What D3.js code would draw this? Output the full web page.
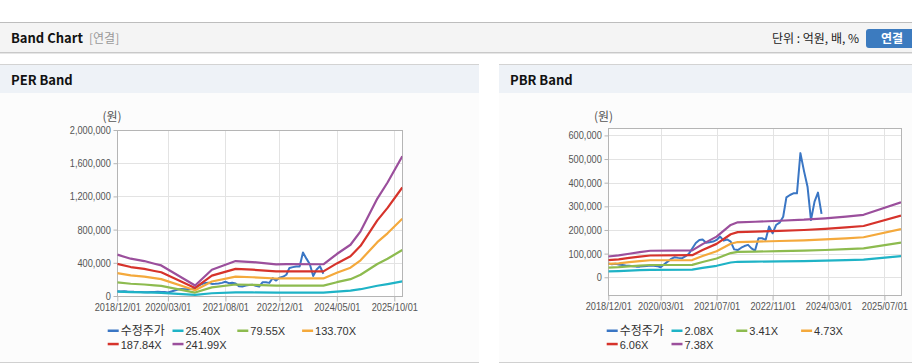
<!DOCTYPE html>
<html><head><meta charset="utf-8">
<script src="https://cdn.jsdelivr.net/npm/d3@7"></script>
<style>
html,body{margin:0;padding:0;background:#fff;}
svg{display:block;}
text{font-family:"Liberation Sans",Arial,"Noto Sans CJK KR",sans-serif;}
.kr{font-family:"Noto Sans CJK KR","Liberation Sans",sans-serif;}
</style></head>
<body>
<script>
// ---------- DATA ----------
const priceDates = ["2018-12","2019-01","2019-02","2019-03","2019-04","2019-05","2019-06","2019-07","2019-08","2019-09","2019-10","2019-11","2019-12",
"2020-01","2020-02","2020-03","2020-04","2020-05","2020-06","2020-07","2020-08","2020-09","2020-10","2020-11","2020-12",
"2021-01","2021-02","2021-03","2021-04","2021-05","2021-06","2021-07","2021-08","2021-09","2021-10","2021-11","2021-12",
"2022-01","2022-02","2022-03","2022-04","2022-05","2022-06","2022-07","2022-08","2022-09","2022-10","2022-11","2022-12",
"2023-01","2023-02","2023-03","2023-04","2023-05","2023-06","2023-07","2023-08","2023-09","2023-10","2023-11","2023-12","2024-01"];
const priceValues = [58000,55000,57000,54000,52000,50000,49000,47000,45000,45000,47000,48000,50000,
49000,47000,42000,55000,66000,78000,85000,82000,80000,88000,99000,122000,
145000,158000,160000,146000,148000,151000,158000,172000,155000,160000,151000,118000,
115000,125000,132000,137000,122000,113000,165000,165000,158000,215000,186000,221000,
231000,256000,338000,348000,355000,355000,525000,450000,383000,242000,320000,358000,268000];

// PER band
const perDates = ["2018-12-01","2019-04-01","2019-08-01","2019-11-01","2020-01-01","2020-11-01","2021-04-01","2021-11-01","2022-04-01","2022-11-01","2023-02-01","2024-01-01","2024-05-01","2024-09-01","2024-12-01","2025-05-01","2025-08-01","2025-12-12"];
const perBand1 = [52300,47200,44200,40800,38700,13200,33300,44200,42900,40000,40300,40100,53100,64800,81800,123200,143500,176800];
const perBand2 = [163700,147700,138400,127800,121100,41400,104200,138400,134400,125300,126100,125700,166300,202900,256200,385800,449500,553700];
const perBand3 = [275200,248300,232600,214700,203500,69500,175100,232600,226000,210600,211900,211200,279400,340900,430500,648400,755400,930600];
const perBand4 = [386600,348800,326800,301700,285900,97700,246100,326800,317400,295800,297700,296800,392600,479000,604800,911000,1061300,1307400];
const perBand5 = [498000,449400,421100,388600,368300,125800,317000,421100,409000,381100,383600,382300,505800,617100,779200,1173700,1367200,1684300];
const perLabels = ["수정주가","25.40X","79.55X","133.70X","187.84X","241.99X"];
const perYTicks = [0,400000,800000,1200000,1600000,2000000];
const perXTicks = ["2018/12/01","2020/03/01","2021/08/01","2022/12/01","2024/05/01","2025/10/01"];

// PBR band
const pbrDates = ["2018-12-01","2019-03-01","2019-06-01","2019-09-01","2019-12-01","2020-12-01","2021-03-01","2021-07-01","2021-11-01","2022-01-01","2022-06-01","2023-01-01","2023-08-01","2024-02-01","2024-08-01","2025-01-01","2025-11-23"];
const pbrBand1 = [24800,26000,28100,30000,31600,32000,39500,48500,62400,65500,66100,67400,68600,70300,72400,74500,89400];
const pbrBand2 = [40600,42600,46000,49100,51800,52500,64800,79500,102300,107400,108400,110500,112500,115300,118700,122100,146600];
const pbrBand3 = [56300,59100,63900,68100,71900,72800,89900,110200,141900,149000,150400,153300,156100,159900,164600,169300,203400];
const pbrBand4 = [72100,75800,81800,87300,92100,93300,115100,141200,181800,190900,192700,196300,200000,204800,210900,216900,260600];
const pbrBand5 = [87800,92300,99600,106300,112200,113700,140200,172000,221400,232500,234700,239100,243500,249400,256800,264200,317300];
const pbrLabels = ["수정주가","2.08X","3.41X","4.73X","6.06X","7.38X"];
const pbrYTicks = [0,100000,200000,300000,400000,500000,600000];
const pbrXTicks = ["2018/12/01","2020/03/01","2021/07/01","2022/11/01","2024/03/01","2025/07/01"];

const colors = ["#3a76c4","#1fb3c6","#8dbb4f","#f4a93c","#d6332b","#9b4f9c"];

// ---------- DRAW ----------
const W = 912, H = 364;
const svg = d3.select("body").append("svg").attr("width", W).attr("height", H);

// top header bar
svg.append("rect").attr("x",0).attr("y",22).attr("width",W).attr("height",31).attr("fill","#f4f4f4");
svg.append("line").attr("x1",0).attr("x2",W).attr("y1",22.5).attr("y2",22.5).attr("stroke","#bdbdbd");
svg.append("line").attr("x1",0).attr("x2",W).attr("y1",52.5).attr("y2",52.5).attr("stroke","#c9c9c9");
svg.append("line").attr("x1",0).attr("x2",W).attr("y1",53.5).attr("y2",53.5).attr("stroke","#e6e6e6");
svg.append("text").attr("class","kr").attr("x",11).attr("y",43).attr("font-size",13).attr("font-weight","bold").attr("fill","#111").text("Band Chart");
svg.append("text").attr("class","kr").attr("x",89).attr("y",43).attr("font-size",12).attr("fill","#999").text("[연결]");
svg.append("text").attr("class","kr").attr("x",859).attr("y",43).attr("font-size",12).attr("fill","#222").attr("text-anchor","end").text("단위 : 억원, 배, %");
svg.append("rect").attr("x",866).attr("y",29).attr("width",52).attr("height",19).attr("rx",3).attr("fill","#3c7bbf");
svg.append("text").attr("class","kr").attr("x",892).attr("y",43).attr("font-size",12).attr("font-weight","bold").attr("fill","#fff").attr("text-anchor","middle").text("연결");

function panel(x0, w, title){
  svg.append("rect").attr("x",x0).attr("y",64).attr("width",w).attr("height",299).attr("fill","#fcfcfc");
  svg.append("rect").attr("x",x0).attr("y",64).attr("width",w).attr("height",29).attr("fill","#eef2f7");
  svg.append("line").attr("x1",x0).attr("x2",x0+w).attr("y1",64.5).attr("y2",64.5).attr("stroke","#d3d3d3");
  svg.append("line").attr("x1",x0).attr("x2",x0+w).attr("y1",362.5).attr("y2",362.5).attr("stroke","#d0d0d0");
  svg.append("text").attr("class","kr").attr("x",x0+11).attr("y",85).attr("font-size",13).attr("font-weight","bold").attr("fill","#111").text(title);
}
panel(0, 479, "PER Band");
panel(499, 413, "PBR Band");

const parse = d3.timeParse("%Y-%m-%d");
const parseM = d3.timeParse("%Y-%m");
const parseT = d3.timeParse("%Y/%m/%d");
const SX = 0.84; // narrow tick font

function chart(cfg){
  const {left,right,top,bottom,xDomain,yDomain,yTicks,xTicks,dates,bands,labels,unitX,legX,clipId} = cfg;
  const x = d3.scaleTime().domain(xDomain.map(parse)).range([left,right]);
  const y = d3.scaleLinear().domain(yDomain).range([bottom,top]);
  const g = svg.append("g");
  g.append("rect").attr("x",left).attr("y",top).attr("width",right-left).attr("height",bottom-top).attr("fill","#fff");
  // grid
  g.append("g").selectAll("line").data(yTicks).join("line")
    .attr("x1",left).attr("x2",right).attr("y1",d=>Math.round(y(d))+0.5).attr("y2",d=>Math.round(y(d))+0.5)
    .attr("stroke","#e3e3e3");
  g.append("g").selectAll("line").data(xTicks).join("line")
    .attr("x1",d=>Math.round(x(parseT(d)))+0.5).attr("x2",d=>Math.round(x(parseT(d)))+0.5).attr("y1",top).attr("y2",bottom)
    .attr("stroke","#e3e3e3");
  // axes
  const yAxis = d3.axisLeft(y).tickValues(yTicks).tickSize(4).tickPadding(4).tickSizeOuter(0).tickFormat(d3.format(","));
  const ya = g.append("g").attr("transform",`translate(${Math.round(left)+0.5},0)`).call(yAxis);
  ya.select(".domain").remove();
  const xAxis = d3.axisBottom(x).tickValues(xTicks.map(parseT)).tickSize(5).tickPadding(2).tickSizeOuter(0).tickFormat(d3.timeFormat("%Y/%m/%d"));
  const xa = g.append("g").attr("transform",`translate(0,${Math.round(bottom)+0.5})`).call(xAxis);
  xa.select(".domain").remove();
  [ya,xa].forEach(a=>{
    a.selectAll(".tick line").attr("stroke","#b5b5b5");
    a.selectAll(".tick text").attr("fill","#555").attr("font-size",11)
      .attr("font-family","'Liberation Sans',Arial,sans-serif")
      .attr("transform",`scale(${SX},1)`);
  });
  // border
  g.append("rect").attr("x",Math.round(left)+0.5).attr("y",Math.round(top)+0.5)
    .attr("width",Math.round(right)-Math.round(left)).attr("height",Math.round(bottom)-Math.round(top))
    .attr("fill","none").attr("stroke","#b5b5b5");
  // unit
  g.append("text").attr("class","kr").attr("x",unitX).attr("y",121).attr("font-size",12).attr("fill","#555").attr("text-anchor","middle").text("(원)");
  // clip
  svg.append("clipPath").attr("id",clipId).append("rect").attr("x",left).attr("y",top).attr("width",right-left).attr("height",bottom-top);
  const lg = g.append("g").attr("clip-path",`url(#${clipId})`);
  const priceLine = d3.line().x((d,i)=>x(parseM(priceDates[i]))).y(d=>y(d));
  lg.append("path").attr("d",priceLine(priceValues)).attr("fill","none").attr("stroke",colors[0]).attr("stroke-width",2).attr("stroke-linejoin","round");
  const bandLine = d3.line().x((d,i)=>x(parse(dates[i]))).y(d=>y(d));
  bands.forEach((b,k)=>{
    lg.append("path").attr("d",bandLine(b)).attr("fill","none").attr("stroke",colors[k+1]).attr("stroke-width",2.2).attr("stroke-linejoin","round");
  });
  // legend
  const lgd = g.append("g");
  labels.forEach((lab,i)=>{
    const col = i%4, row = Math.floor(i/4);
    const lx = legX + col*64.8, ly = 331 + row*13.3;
    lgd.append("rect").attr("x",lx).attr("y",ly-1.5).attr("width",11).attr("height",2.5).attr("fill",colors[i]);
    lgd.append("text").attr("class", i===0?"kr":null).attr("x",lx+13).attr("y",ly+4.2).attr("font-size",i===0?12:11).attr("fill","#333").text(lab);
  });
}

chart({left:117.3,right:402.3,top:130,bottom:296,xDomain:["2018-12-01","2025-12-12"],yDomain:[0,2000000],
  yTicks:perYTicks,xTicks:perXTicks,dates:perDates,bands:[perBand1,perBand2,perBand3,perBand4,perBand5],
  labels:perLabels,unitX:112,legX:107.7,clipId:"c1"});
chart({left:608.3,right:901,top:128.3,bottom:295,xDomain:["2018-12-01","2025-11-23"],yDomain:[-75000,630000],
  yTicks:pbrYTicks,xTicks:pbrXTicks,dates:pbrDates,bands:[pbrBand1,pbrBand2,pbrBand3,pbrBand4,pbrBand5],
  labels:pbrLabels,unitX:603.5,legX:606.7,clipId:"c2"});
</script>
</body></html>
